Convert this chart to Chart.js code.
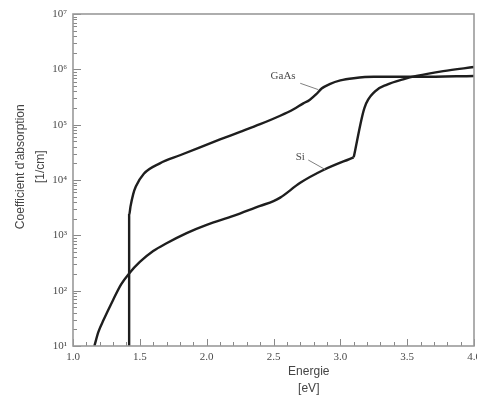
<!DOCTYPE html>
<html><head><meta charset="utf-8">
<style>html,body{margin:0;padding:0;background:#fff;overflow:hidden;width:477px;height:396px}canvas{display:block}</style>
<script src="https://cdn.jsdelivr.net/npm/chart.js@4/dist/chart.umd.min.js"></script>
</head><body>
<canvas id="c" width="490" height="396"></canvas>
<script>
const seriesNames = ['GaAs', 'Si'];
const gaasEnergy = [1.42, 1.42, 1.43, 1.45, 1.47, 1.53, 1.65, 1.80, 1.95, 2.10, 2.25, 2.40, 2.55, 2.65, 2.72, 2.77, 2.82, 2.86, 2.92, 3.00, 3.10, 3.25, 3.60, 4.00];
const gaasAlpha  = [10, 2300, 3300, 5500, 7600, 13000, 20000, 28000, 39000, 54000, 74000, 102000, 145000, 190000, 240000, 280000, 355000, 450000, 540000, 630000, 690000, 733000, 733000, 760000];
const siEnergy = [1.16, 1.19, 1.23, 1.30, 1.36, 1.42, 1.50, 1.60, 1.70, 1.85, 2.00, 2.20, 2.40, 2.50, 2.55, 2.70, 2.87, 3.10, 3.18, 3.26, 3.35, 3.47, 3.57, 3.77, 4.00];
const siAlpha  = [10, 18, 30, 68, 130, 205, 330, 520, 720, 1100, 1550, 2240, 3400, 4150, 4800, 8900, 15000, 25700, 200000, 400000, 530000, 660000, 760000, 930000, 1100000];
// the Si curve has a sharp kink here (start of the direct transitions)
const siKinkEnergy = 3.10;
const xTickLabels = ['1.0', '1.5', '2.0', '2.5', '3.0', '3.5', '4.0'];
const yTickExponents = [1, 2, 3, 4, 5, 6, 7];
const xTitle = ['Energie', '[eV]'];
const yTitle = ["Coefficient d'absorption", '[1/cm]'];
const curveLabels = [
  { text: 'GaAs', at: [2.572, 740000], from: [2.70, 560000], to: [2.835, 430000] },
  { text: 'Si', at: [2.70, 26000], from: [2.76, 23000], to: [2.886, 15500] }
];

const SUP = ['\u2070', '\u00B9', '\u00B2', '\u00B3', '\u2074', '\u2075', '\u2076', '\u2077', '\u2078', '\u2079'];
const SERIF = "'Liberation Serif', 'DejaVu Serif', serif";
const SANS = "'Liberation Sans', Arial, sans-serif";

const decor = {
  id: 'decor',
  afterDraw: function (chart) {
    const ctx = chart.ctx;
    const a = chart.chartArea;
    const xs = chart.scales.x;
    const ys = chart.scales.y;
    ctx.save();
    ctx.strokeStyle = '#888';
    ctx.lineWidth = 1;
    ctx.beginPath();
    const xv = xTickLabels.map(parseFloat);
    for (let i = 0; i < xv.length; i++) {
      const px = Math.round(xs.getPixelForValue(xv[i])) + 0.5;
      ctx.moveTo(px, a.bottom);
      ctx.lineTo(px, a.bottom - 7);
      if (i < xv.length - 1) {
        const step = (xv[i + 1] - xv[i]) / 5;
        for (let k = 1; k < 5; k++) {
          const mx = Math.round(xs.getPixelForValue(xv[i] + k * step)) + 0.5;
          ctx.moveTo(mx, a.bottom);
          ctx.lineTo(mx, a.bottom - 4);
        }
      }
    }
    for (let i = 0; i < yTickExponents.length; i++) {
      const base = Math.pow(10, yTickExponents[i]);
      const py = Math.round(ys.getPixelForValue(base)) + 0.5;
      ctx.moveTo(a.left, py);
      ctx.lineTo(a.left + 8, py);
      if (i < yTickExponents.length - 1) {
        for (let k = 2; k <= 9; k++) {
          const my = Math.round(ys.getPixelForValue(k * base)) + 0.5;
          ctx.moveTo(a.left, my);
          ctx.lineTo(a.left + 4, my);
        }
      }
    }
    ctx.stroke();
    ctx.strokeStyle = '#9a9a9a';
    ctx.lineWidth = 1.6;
    ctx.strokeRect(a.left, a.top, a.right - a.left, a.bottom - a.top);
    ctx.strokeStyle = '#808080';
    ctx.lineWidth = 1;
    ctx.fillStyle = '#4a4a4a';
    ctx.font = '11px ' + SERIF;
    ctx.textAlign = 'center';
    ctx.textBaseline = 'middle';
    for (const l of curveLabels) {
      ctx.beginPath();
      ctx.moveTo(xs.getPixelForValue(l.from[0]), ys.getPixelForValue(l.from[1]));
      ctx.lineTo(xs.getPixelForValue(l.to[0]), ys.getPixelForValue(l.to[1]));
      ctx.stroke();
      ctx.fillText(l.text, xs.getPixelForValue(l.at[0]), ys.getPixelForValue(l.at[1]));
    }
    ctx.fillStyle = '#444';
    ctx.font = '12px ' + SANS;
    const xc = a.left + (a.right - a.left) * 0.588;
    ctx.fillText(xTitle[0], xc, a.bottom + 26);
    ctx.fillText(xTitle[1], xc, a.bottom + 43);
    const yc = a.top + (a.bottom - a.top) * 0.46;
    ctx.save();
    ctx.translate(21, yc);
    ctx.rotate(-Math.PI / 2);
    ctx.fillText(yTitle[0], 0, 0);
    ctx.restore();
    ctx.save();
    ctx.translate(41, yc);
    ctx.rotate(-Math.PI / 2);
    ctx.fillText(yTitle[1], 0, 0);
    ctx.restore();
    ctx.restore();
  }
};

function toPoints(xsArr, ysArr, from, to) {
  const out = [];
  for (let i = 0; i < xsArr.length; i++) {
    if (xsArr[i] >= from && xsArr[i] <= to) out.push({ x: xsArr[i], y: ysArr[i] });
  }
  return out;
}

const lineStyle = { borderColor: '#1e1e1e', borderWidth: 2.4, pointRadius: 0, cubicInterpolationMode: 'monotone', fill: false };

new Chart(document.getElementById('c'), {
  type: 'line',
  data: {
    datasets: [
      Object.assign({ label: seriesNames[0], data: toPoints(gaasEnergy, gaasAlpha, -Infinity, Infinity) }, lineStyle),
      Object.assign({ label: seriesNames[1], data: toPoints(siEnergy, siAlpha, -Infinity, siKinkEnergy) }, lineStyle),
      Object.assign({ label: seriesNames[1], data: toPoints(siEnergy, siAlpha, siKinkEnergy, Infinity) }, lineStyle)
    ]
  },
  options: {
    responsive: false,
    animation: false,
    layout: { padding: { top: 14, right: 16, bottom: 0, left: 0 } },
    plugins: { legend: { display: false }, tooltip: { enabled: false } },
    scales: {
      x: {
        type: 'linear', min: 1, max: 4,
        grid: { display: false, drawTicks: false },
        border: { display: false },
        afterBuildTicks: function (s) { s.ticks = xTickLabels.map(function (t) { return { value: parseFloat(t) }; }); },
        afterFit: function (s) { s.height = 50; },
        ticks: { autoSkip: false, maxRotation: 0, padding: 5, color: '#4a4a4a', font: { family: SERIF, size: 11 },
                 callback: function (v, i) { return xTickLabels[i]; } }
      },
      y: {
        type: 'logarithmic', min: 10, max: 1e7,
        grid: { display: false, drawTicks: false },
        border: { display: false },
        afterBuildTicks: function (s) { s.ticks = yTickExponents.map(function (e) { return { value: Math.pow(10, e) }; }); },
        afterFit: function (s) { s.width = 73; },
        ticks: { autoSkip: false, padding: 6, color: '#4a4a4a', font: { family: SERIF, size: 11 },
                 callback: function (v, i) { return '10' + SUP[yTickExponents[i]]; } }
      }
    }
  },
  plugins: [decor]
});
</script>
</body></html>
